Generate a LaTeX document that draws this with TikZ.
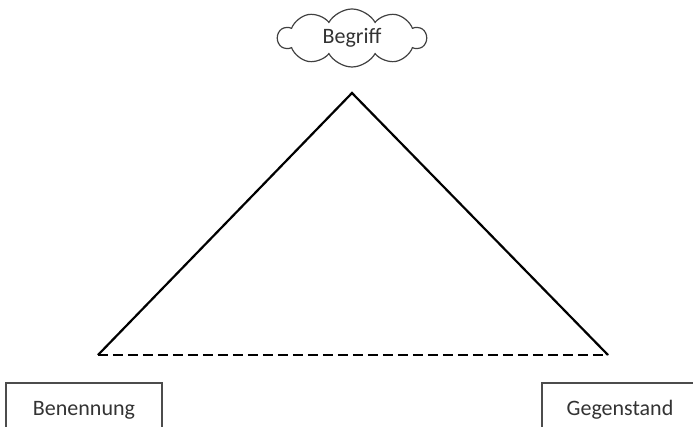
\documentclass[tikz,border=0pt]{standalone}
\usepackage{fontspec}
\setmainfont{Carlito}
\usetikzlibrary{shapes.symbols}
\tikzset{
  label box/.style={draw=black!70, line width=0.6pt, minimum width=78pt, minimum height=27pt, font=\fontsize{11}{13}\selectfont, text=black!80},
  idea cloud/.style={cloud, cloud puffs=10, cloud puff arc=120, aspect=2.6, draw=black!75, line width=0.6pt, minimum width=74pt, minimum height=29pt, inner sep=0pt, font=\fontsize{11}{13}\selectfont, text=black!80}
}
\begin{document}
\begin{tikzpicture}[x=0.5pt, y=-0.5pt]
                \useasboundingbox (0,0) rectangle (693,427);
                % Corners of the triangle
                \coordinate (apex) at (352,93);
                \coordinate (left) at (98,355);
                \coordinate (right) at (608,355);
                \draw[line width=1.1pt] (left) -- (apex) -- (right);
                \draw[line width=1.1pt, dashed, dash pattern=on 5pt off 2.5pt] (left) -- (right);

                % Labels
                \node[idea cloud] (begriff) at (352,38) {Begriff};
                \node[label box] (benennung) at (84,410) {Benennung};
                \node[label box] (gegenstand) at (620,410) {Gegenstand};
            \end{tikzpicture}
\end{document}
